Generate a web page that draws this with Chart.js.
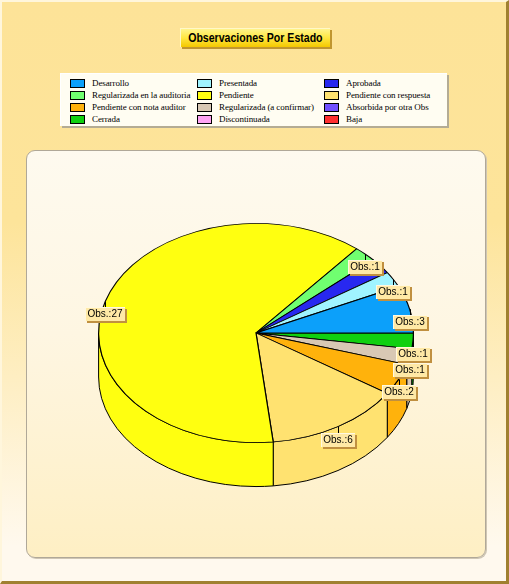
<!DOCTYPE html>
<html>
<head>
<meta charset="utf-8">
<script src="https://cdn.jsdelivr.net/npm/chart.js@4.4.1/dist/chart.umd.min.js"></script>
<style>
  html, body { margin: 0; padding: 0; }
  body { width: 509px; height: 584px; overflow: hidden; position: relative; }
  #frame {
    position: absolute; left: 0; top: 0; width: 509px; height: 584px;
    box-sizing: border-box;
    border-top: 2px solid #fff6dc; border-left: 2px solid #fff6dc;
    border-right: 3px solid #a08030; border-bottom: 3px solid #a08030;
    background: linear-gradient(to bottom, #fde398 0%, #fde49a 38%, #fff9ee 94%);
  }
  #title {
    position: absolute; left: 180px; top: 28px; width: 149px; height: 18px;
    background: linear-gradient(to bottom, #fff48c 0%, #ffe640 50%, #f4c800 100%);
    border-top: 1px solid #fff8c8; border-left: 1px solid #fff8c8;
    box-shadow: 2px 2px 0 #c09630;
    font: bold 12px "Liberation Sans", Arial, sans-serif;
    line-height: 18px; text-align: center; color: #000;
    white-space: nowrap; overflow: hidden;
  }
  #title span { display: inline-block; transform: scaleX(0.88); transform-origin: center; margin: 0 -12px; }
  #legend {
    position: absolute; left: 60px; top: 73px; width: 386px; height: 52px;
    background: #fffdf2;
    border-top: 1px solid #fff; border-left: 1px solid #fff;
    box-shadow: 2px 2px 0 #b4ac94;
  }
  .item { position: absolute; height: 12px; }
  .sw {
    position: absolute; left: 0; top: 2px; width: 13px; height: 7px;
    border: 1px solid #000;
  }
  .lbl {
    position: absolute; left: 22px; top: 0; white-space: nowrap;
    font: 9px "Liberation Serif", "Times New Roman", serif; line-height: 12px; color: #000;
    letter-spacing: -0.1px;
  }
  #panel {
    position: absolute; left: 26px; top: 150px; width: 458px; height: 406px;
    border: 1px solid #b0a898; border-radius: 9px;
    box-shadow: 1px 1px 0 #cfc6b4;
    background: linear-gradient(to bottom, #fefaef 0%, #fef6e2 45%, #feefc4 100%);
  }
  #chartBox { position: absolute; left: 26px; top: 150px; width: 460px; height: 408px; }
</style>
</head>
<body>
<div id="frame"></div>
<div id="title"><span>Observaciones Por Estado</span></div>
<div id="legend"></div>
<div id="panel"></div>
<div id="chartBox"><canvas id="pieChart" width="460" height="408"></canvas></div>

<script>
// ===================================
// Datos
// ===================================
const categories = [
  'Desarrollo', 'Presentada', 'Aprobada',
  'Regularizada en la auditoria', 'Pendiente', 'Pendiente con respuesta',
  'Pendiente con nota auditor', 'Regularizada (a confirmar)', 'Absorbida por otra Obs',
  'Cerrada', 'Discontinuada', 'Baja'
];
const counts = [3, 1, 1, 1, 27, 6, 2, 1, 0, 1, 0, 0];
const colors = [
  '#0ca0fa', '#a0f4ff', '#2828f0',
  '#70ff70', '#ffff10', '#ffe270',
  '#ffb20c', '#d8c8b4', '#7050ff',
  '#10d010', '#ffa4f4', '#ff3030'
];
const labelPrefix = 'Obs.:';

// ===================================
// Leyenda (3 columnas)
// ===================================
function buildLegend() {
  const box = document.getElementById('legend');
  categories.forEach((name, i) => {
    const col = i % 3, row = Math.floor(i / 3);
    const it = document.createElement('div');
    it.className = 'item';
    it.style.left = (9 + col * 127) + 'px';
    it.style.top = (3 + row * 12) + 'px';
    it.innerHTML = '<div class="sw" style="background:' + colors[i] + '"></div>' +
                   '<div class="lbl">' + name + '</div>';
    box.appendChild(it);
  });
}

// ===================================
// Pastel 3D (aplastado + pared lateral)
// ===================================
const TILT = 0.696;
const DEPTH = 44;

const pie3d = {
  id: 'pie3d',
  beforeDatasetsDraw(chart) {
    const ctx = chart.ctx;
    const arcs = chart.getDatasetMeta(0).data;
    const twoPi = Math.PI * 2;
    ctx.save();
    ctx.lineWidth = 1;
    ctx.strokeStyle = '#000';
    arcs.forEach(arc => {
      const p = arc.getProps(['x', 'y', 'startAngle', 'endAngle', 'outerRadius']);
      let s = p.startAngle, e = p.endAngle;
      while (s < 0) { s += twoPi; e += twoPi; }
      while (s >= twoPi) { s -= twoPi; e -= twoPi; }
      const r = p.outerRadius;
      [[0, Math.PI], [twoPi, twoPi + Math.PI]].forEach(([a, b]) => {
        const s1 = Math.max(s, a), e1 = Math.min(e, b);
        if (e1 <= s1) return;
        ctx.beginPath();
        ctx.ellipse(p.x, p.y, r, r * TILT, 0, s1, e1);
        ctx.ellipse(p.x, p.y + DEPTH, r, r * TILT, 0, e1, s1, true);
        ctx.closePath();
        ctx.fillStyle = arc.options.backgroundColor;
        ctx.fill();
        ctx.stroke();
      });
    });
    ctx.restore();

    const c = arcs[0].getProps(['x', 'y']);
    ctx.save();
    ctx.translate(c.x, c.y);
    ctx.scale(1, TILT);
    ctx.translate(-c.x, -c.y);
  },
  afterDatasetsDraw(chart) {
    const ctx = chart.ctx;
    ctx.restore();

    const arcs = chart.getDatasetMeta(0).data;
    const values = chart.data.datasets[0].data;
    const placed = [];
    ctx.save();
    ctx.font = '10px "Liberation Sans", Arial, sans-serif';
    ctx.textBaseline = 'middle';
    ctx.textAlign = 'center';
    // colocar en el orden de la leyenda (el dataset va invertido)
    for (let i = arcs.length - 1; i >= 0; i--) {
      const p = arcs[i].getProps(['x', 'y', 'startAngle', 'endAngle', 'outerRadius']);
      const mid = (p.startAngle + p.endAngle) / 2;
      const px = p.x + p.outerRadius * Math.cos(mid);
      const py = p.y + p.outerRadius * TILT * Math.sin(mid);
      const text = labelPrefix + values[i];
      const w = Math.round(ctx.measureText(text).width + 5);
      const h = 14;
      const bx = Math.round(px - w / 2);
      const by = Math.round(py + 6);
      const hit = placed.some(b => bx < b.x + b.w && bx + w > b.x && by < b.y + b.h && by + h > b.y);
      if (hit) continue;
      placed.push({x: bx, y: by, w: w, h: h});

      ctx.strokeStyle = '#000';
      ctx.lineWidth = 1;
      ctx.beginPath();
      ctx.moveTo(Math.round(px) + 0.5, py);
      ctx.lineTo(Math.round(px) + 0.5, by);
      ctx.stroke();

      ctx.fillStyle = '#c09040';
      ctx.fillRect(bx + 2, by + 2, w, h);
      ctx.fillStyle = '#ffe9a6';
      ctx.fillRect(bx, by, w, h);
      ctx.fillStyle = '#fff8e0';
      ctx.fillRect(bx, by, w, 1);
      ctx.fillRect(bx, by, 1, h);
      ctx.fillStyle = '#000';
      ctx.fillText(text, bx + w / 2, by + h / 2 + 0.5);
    }
    ctx.restore();
  }
};

function initPie() {
  const idx = counts.map((v, i) => i).filter(i => counts[i] > 0).reverse();
  new Chart(document.getElementById('pieChart'), {
    type: 'pie',
    data: {
      labels: idx.map(i => categories[i]),
      datasets: [{
        data: idx.map(i => counts[i]),
        backgroundColor: idx.map(i => colors[i]),
        borderColor: '#000',
        borderWidth: 1.2,
        clip: false
      }]
    },
    options: {
      responsive: false,
      animation: false,
      events: [],
      rotation: 90,
      layout: { padding: { left: 72, right: 72, top: 25, bottom: 67 } },
      plugins: {
        legend: { display: false },
        title: { display: false },
        tooltip: { enabled: false }
      }
    },
    plugins: [pie3d]
  });
}

document.addEventListener('DOMContentLoaded', function() {
  buildLegend();
  initPie();
});
</script>
</body>
</html>
